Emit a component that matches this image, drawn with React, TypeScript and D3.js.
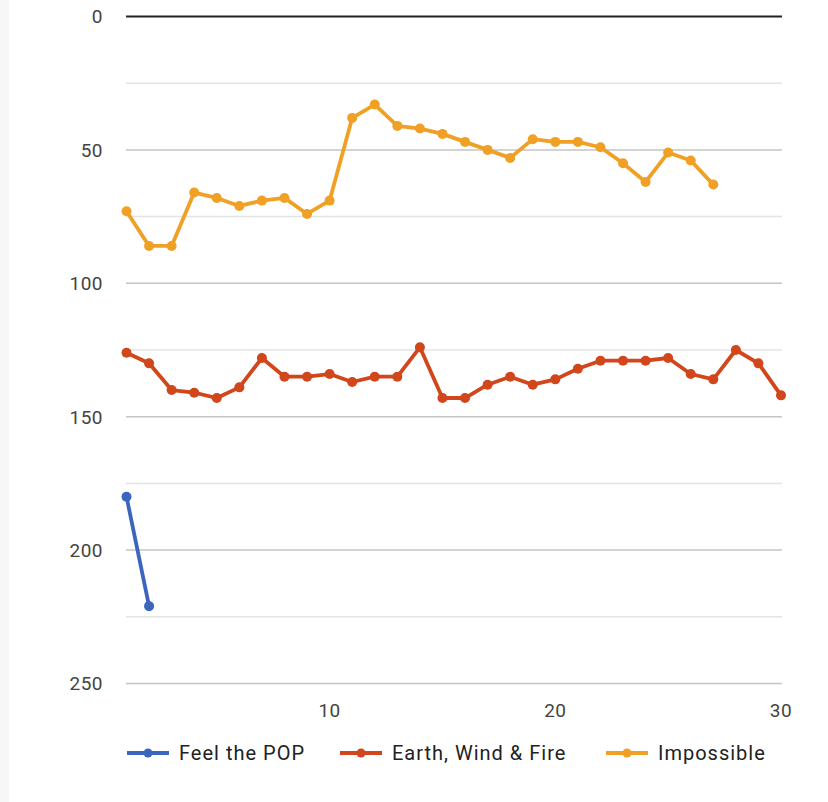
import React from "react";
import * as d3 from "d3";

const xValues = d3.range(1, 31);
const seriesNames = ["Feel the POP", "Earth, Wind & Fire", "Impossible"];
const seriesColors = ["#3a66bd", "#d2461c", "#f0a024"];
const feelThePop = [180, 221];
const earthWindFire = [126, 130, 140, 141, 143, 139, 128, 135, 135, 134, 137, 135, 135, 124, 143, 143, 138, 135, 138, 136, 132, 129, 129, 129, 128, 134, 136, 125, 130, 142];
const impossible = [73, 86, 86, 66, 68, 71, 69, 68, 74, 69, 38, 33, 41, 42, 44, 47, 50, 53, 46, 47, 47, 49, 55, 62, 51, 54, 63];
const yTicks = [0, 50, 100, 150, 200, 250];
const yMinorTicks = [25, 75, 125, 175, 225];
const xTicks = [10, 20, 30];

const W = 828;
const H = 802;
const FONT = "Roboto, 'Noto Sans', sans-serif";

export default function App() {
  const x = d3.scaleLinear().domain([1, 30]).range([126.5, 781]);
  const y = d3.scaleLinear().domain([0, 250]).range([16.5, 683.5]);
  const allSeries = [feelThePop, earthWindFire, impossible];
  const line = d3
    .line<number>()
    .x((_, i) => x(xValues[i]))
    .y((d) => y(d));

  const legendX = [127, 340, 606];
  const legendY = 753;

  return (
    <svg
      width={W}
      height={H}
      style={{ position: "absolute", left: 0, top: 0, background: "#fff" }}
      fontFamily={FONT}
    >
      <rect x={0} y={0} width={W} height={H} fill="#fff" />
      <rect x={0} y={0} width={9} height={H} fill="#f7f7f7" />
      {yMinorTicks.map((t) => (
        <line key={"m" + t} x1={126} x2={782} y1={y(t)} y2={y(t)} stroke="#e4e4e4" strokeWidth={1.5} />
      ))}
      {yTicks.map((t) => (
        <line
          key={"g" + t}
          x1={126}
          x2={782}
          y1={y(t)}
          y2={y(t)}
          stroke={t === 0 ? "#222" : "#c4c4c4"}
          strokeWidth={t === 0 ? 2 : 1.5}
        />
      ))}
      {yTicks.map((t) => (
        <text key={"yl" + t} x={103} y={y(t)} dy="0.36em" textAnchor="end" fontSize={19} letterSpacing={0.5} fill="#444">
          {t}
        </text>
      ))}
      {xTicks.map((t) => (
        <text key={"xl" + t} x={x(t)} y={717} textAnchor="middle" fontSize={19} letterSpacing={0.5} fill="#444">
          {t}
        </text>
      ))}
      {allSeries.map((s, si) => (
        <g key={"s" + si}>
          <path d={line(s) || ""} fill="none" stroke={seriesColors[si]} strokeWidth={3.8} strokeLinejoin="round" />
          {s.map((v, i) => (
            <circle key={i} cx={x(xValues[i])} cy={y(v)} r={5} fill={seriesColors[si]} />
          ))}
        </g>
      ))}
      {seriesNames.map((name, i) => (
        <g key={"lg" + i}>
          <line x1={legendX[i]} x2={legendX[i] + 42} y1={legendY} y2={legendY} stroke={seriesColors[i]} strokeWidth={3.8} />
          <circle cx={legendX[i] + 21} cy={legendY} r={4.5} fill={seriesColors[i]} />
          <text x={legendX[i] + 52} y={legendY} dy="0.36em" fontSize={20} letterSpacing={1} fill="#222">
            {name}
          </text>
        </g>
      ))}
    </svg>
  );
}
